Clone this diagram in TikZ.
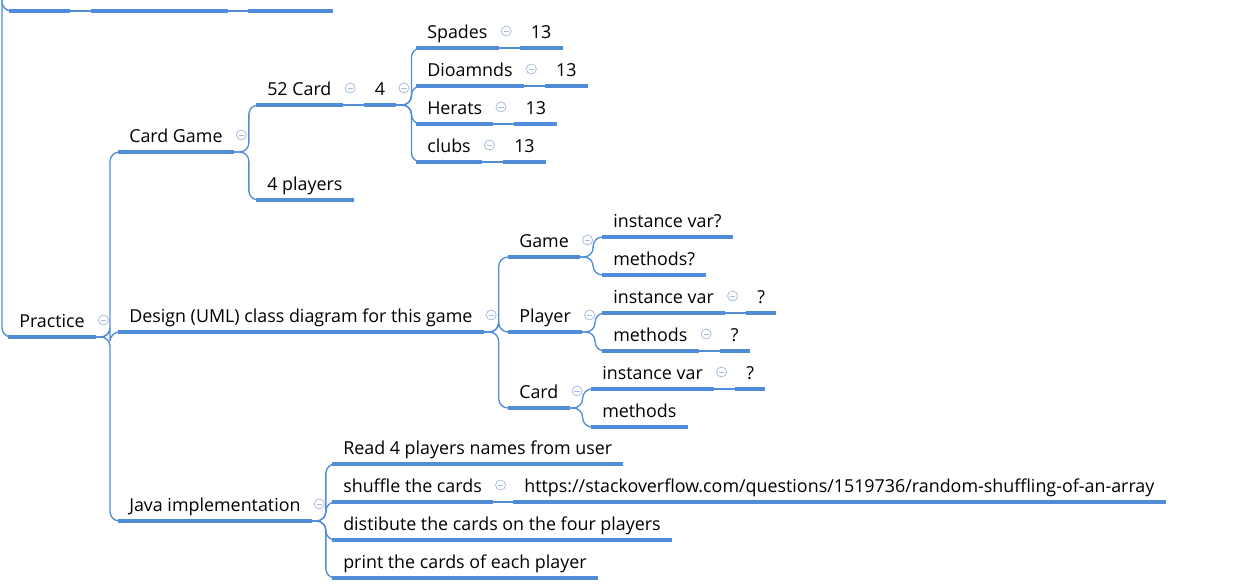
\documentclass[tikz,border=0pt]{standalone}
\usepackage{fontspec}
\setmainfont{Open Sans}
\usepackage{tikz}
\usetikzlibrary{positioning}

\definecolor{mapblue}{HTML}{508CD7}
\definecolor{foldgray}{HTML}{A9BCDC}

\begin{document}
\begin{tikzpicture}[
    x=0.75pt, y=-0.75pt,
    topic/.style={inner xsep=8.25pt, inner ysep=0pt, text height=10pt, text depth=7.2pt, anchor=south west},
    uline/.style={draw=mapblue, line width=2.4pt},
    conn/.style={draw=mapblue, line width=1pt, rounded corners=7pt},
    fold/.style={circle, draw=foldgray, line width=0.6pt, minimum size=7.5pt, inner sep=0pt,
      path picture={\draw[foldgray, line width=0.6pt] ([xshift=-2pt]path picture bounding box.center) -- ([xshift=2pt]path picture bounding box.center);}},
    font=\fontsize{13.4pt}{16pt}\selectfont
]
\useasboundingbox (0,0) rectangle (1258,584);

% clipped sibling at the top
\node[topic, minimum width=45pt] (top1) at (9,11) {};
\node[topic, minimum width=102pt] (top2) at (91,11) {};
\node[topic, minimum width=63pt] (top3) at (248,11) {};
\draw[conn] (top1.south east) -- (top2.south west);
\draw[conn] (top2.south east) -- (top3.south west);

% root
\coordinate (root) at (2,-40);
\node[topic] (practice) at (8,337) {Practice};
\node[fold] (fpractice) at ([shift={(5.6pt,12.75pt)}]practice.south east) {};
\draw[conn] (root) |- (top1.south west);
\draw[conn] (root) |- (practice.south west);

% main branches
\node[topic] (cardgame) at (118,152) {Card Game};
\node[topic] (design) at (118,332) {Design (UML) class diagram for this game};
\node[topic] (java) at (118,521) {Java implementation};
\draw[conn] (practice.south east) -- ++(14,0) |- (cardgame.south west);
\draw[conn] (practice.south east) -- ++(14,0) |- (design.south west);
\draw[conn] (practice.south east) -- ++(14,0) |- (java.south west);

% Card Game
\node[fold] (fcardgame) at ([shift={(5.6pt,12.75pt)}]cardgame.south east) {};
\node[topic] (card52) at (256,105) {52 Card};
\node[topic, right=15.75pt of card52.south east, anchor=south west] (four) {4};
\node[topic] (players4) at (256,200) {4 players};
\node[fold] (fcard52) at ([shift={(5.6pt,12.75pt)}]card52.south east) {};
\node[fold] (ffour) at ([shift={(5.6pt,12.75pt)}]four.south east) {};
\draw[conn] (cardgame.south east) -- ++(15,0) |- (card52.south west);
\draw[conn] (cardgame.south east) -- ++(15,0) |- (players4.south west);
\draw[conn] (card52.south east) -- (four.south west);

% suits
\node[topic] (spades) at (416,48) {Spades};
\node[topic] (dioamnds) at (416,86) {Dioamnds};
\node[topic] (herats) at (416,124) {Herats};
\node[topic] (clubs) at (416,162) {clubs};
\foreach \s in {spades, dioamnds, herats, clubs} {
  \draw[conn] (four.south east) -- ++(15,0) |- (\s.south west);
  \node[fold] (f\s) at ([shift={(5.6pt,12.75pt)}]\s.south east) {};
  \node[topic, right=15.75pt of \s.south east, anchor=south west] (\s13) {13};
  \draw[conn] (\s.south east) -- (\s13.south west);
}

% Design (UML)
\node[fold] (fdesign) at ([shift={(5.6pt,12.75pt)}]design.south east) {};
\node[topic] (game) at (508,257) {Game};
\node[topic] (player) at (508,332) {Player};
\node[topic] (card) at (508,408) {Card};
\draw[conn] (design.south east) -- ++(15,0) |- (game.south west);
\draw[conn] (design.south east) -- ++(15,0) |- (player.south west);
\draw[conn] (design.south east) -- ++(15,0) |- (card.south west);

\node[fold] (fgame) at ([shift={(5.6pt,12.75pt)}]game.south east) {};
\node[topic] (gamevar) at (602,237) {instance var?};
\node[topic] (gamemeth) at (602,275) {methods?};
\draw[conn] (game.south east) -- ++(13,0) |- (gamevar.south west);
\draw[conn] (game.south east) -- ++(13,0) |- (gamemeth.south west);

\node[fold] (fplayer) at ([shift={(5.6pt,12.75pt)}]player.south east) {};
\node[topic] (playervar) at (602,313) {instance var};
\node[topic] (playermeth) at (602,351) {methods};
\draw[conn] (player.south east) -- ++(13,0) |- (playervar.south west);
\draw[conn] (player.south east) -- ++(13,0) |- (playermeth.south west);
\node[fold] (fplayervar) at ([shift={(5.6pt,12.75pt)}]playervar.south east) {};
\node[fold] (fplayermeth) at ([shift={(5.6pt,12.75pt)}]playermeth.south east) {};
\node[topic, right=15.75pt of playervar.south east, anchor=south west] (playervarq) {?};
\node[topic, right=15.75pt of playermeth.south east, anchor=south west] (playermethq) {?};
\draw[conn] (playervar.south east) -- (playervarq.south west);
\draw[conn] (playermeth.south east) -- (playermethq.south west);

\node[fold] (fcard) at ([shift={(5.6pt,12.75pt)}]card.south east) {};
\node[topic] (cardvar) at (591,389) {instance var};
\node[topic] (cardmeth) at (591,427) {methods};
\draw[conn] (card.south east) -- ++(13,0) |- (cardvar.south west);
\draw[conn] (card.south east) -- ++(13,0) |- (cardmeth.south west);
\node[fold] (fcardvar) at ([shift={(5.6pt,12.75pt)}]cardvar.south east) {};
\node[topic, right=15.75pt of cardvar.south east, anchor=south west] (cardvarq) {?};
\draw[conn] (cardvar.south east) -- (cardvarq.south west);

% Java implementation
\node[fold] (fjava) at ([shift={(5.6pt,12.75pt)}]java.south east) {};
\node[topic] (readnames) at (332,464) {Read 4 players names from user};
\node[topic] (shuffle) at (332,502) {shuffle the cards};
\node[topic] (distribute) at (332,540) {distibute the cards on the four players};
\node[topic] (printcards) at (332,578) {print the cards of each player};
\foreach \j in {readnames, shuffle, distribute, printcards}
  \draw[conn] (java.south east) -- ++(14,0) |- (\j.south west);
\node[fold] (fshuffle) at ([shift={(5.6pt,12.75pt)}]shuffle.south east) {};
\node[topic, right=15pt of shuffle.south east, anchor=south west] (shuffleurl) {https://stackoverflow.com/questions/1519736/random-shuffling-of-an-array};
\draw[conn] (shuffle.south east) -- (shuffleurl.south west);

% underlines
\foreach \t in {top1, top2, top3, practice, cardgame, design, java, card52, four, players4,
    spades, dioamnds, herats, clubs, spades13, dioamnds13, herats13, clubs13,
    game, player, card, gamevar, gamemeth, playervar, playermeth, playervarq, playermethq,
    cardvar, cardmeth, cardvarq, readnames, shuffle, distribute, printcards, shuffleurl}
  \draw[uline] (\t.south west) -- (\t.south east);

\end{tikzpicture}
\end{document}
